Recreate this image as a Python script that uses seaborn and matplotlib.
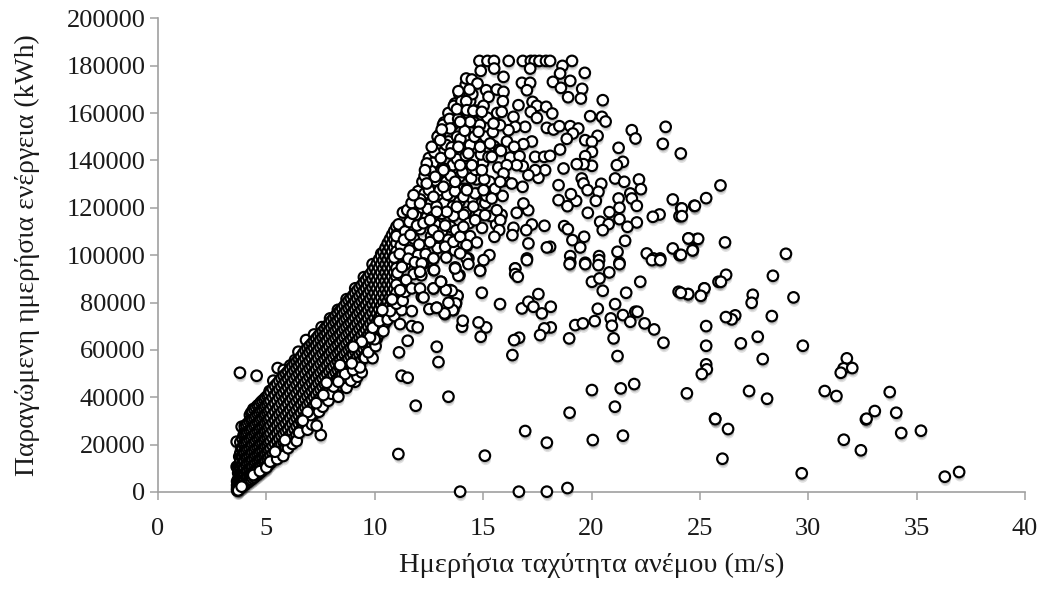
import pandas as pd
import matplotlib
matplotlib.use('Agg')
import matplotlib.pyplot as plt
import matplotlib.patheffects as pe
import seaborn as sns

# Values: wind speed (m/s), daily energy (kWh)
upper_edge = [(3.63,21240),(3.63,10690),(3.78,14900),(3.86,27570),(4.01,26160),(4.24,32490),(4.4,35020),
              (5.01,38820),(5.32,46980),(5.52,52330),(6.32,55700),(6.48,59220),(6.83,64140),(7.94,73290),
              (5.15,42600),(5.8,51500),(6.1,53400),(7.2,66500),(7.55,69600),(8.3,76900),(8.7,81400),
              (9.1,86000),(9.5,90700),(9.9,96200),(10.3,100600),(10.56,103400)]

core_speed = [3.65,3.7,3.8,3.9,4.0,4.15,4.3,4.45,4.6,4.75,4.9,5.05,5.2,5.4,5.6,5.8,6.0,6.2,6.4,6.6,6.8,7.0,
              7.2,7.4,7.6,7.8,8.0,8.2,8.4,8.6,8.8,9.0,9.2,9.4,9.6,9.8,10.0,10.2,10.4,10.6,10.8,11.0]
core_energy = [
    [600,1500,2800,4500],
    [1000,2200,3600,5400,8000,10800],
    [1800,3100,5000,7200,9900,13000,16500,21000],
    [2500,4300,6400,8800,11700,14800,18600,22500],
    [3000,5200,7500,10300,13200,16800,20500,24600,27800],
    [4100,6500,9000,11900,14700,18000,21400,25200,29000],
    [5200,7400,10200,13100,16100,19300,22800,26300,30400,33500],
    [6300,8700,11500,14400,17500,20700,24200,27800,31200,34900],
    [7400,10000,12900,15800,18900,22400,25700,29300,32800,36500],
    [8600,11200,14100,17100,20300,23600,27000,30600,34200,37900],
    [9800,12400,15300,18500,21700,25100,28400,32100,35500,39200],
    [11000,13800,16700,19900,23200,26400,29900,33400,36900,40600],
    [12400,15300,18300,21400,24700,28100,31400,34900,38500,42200],
    [14100,17200,20400,23800,27100,30300,33900,37400,41000,44800],
    [16000,19300,22500,25800,29200,32700,36100,39800,43300,46900],
    [17900,21000,24600,27900,31300,34800,38400,41900,45500,49000],
    [19700,23100,26500,30100,33600,37200,40700,44300,47800,50900],
    [21900,25300,28800,32300,35800,39400,42900,46400,49900,53000],
    [24100,27700,31200,34600,38200,41700,45300,48800,52100,55000],
    [26400,29900,33400,37000,40500,44000,47600,51000,54300,57200],
    [28500,32100,35700,39200,42800,46300,49800,53200,56400,59800],
    [30800,34300,37900,41400,45000,48500,52100,55400,58900,61700],
    [33000,36500,40100,43600,47200,50700,54200,57700,60900,63800],
    [35200,38800,42300,45900,49400,52900,56400,59800,63000,65900],
    [37100,40800,44400,47900,51500,55000,58500,61900,65100,67800],
    [39300,42900,46500,50000,53600,57100,60600,64000,67200,70100],
    [41200,44900,48400,52000,55600,59100,62700,66100,69400,72200],
    [43400,47000,50500,54100,57700,61200,64800,68200,71500,74400],
    [45100,48800,52300,56000,59500,63100,66600,70100,73400,76500],
    [47300,50900,54500,58100,61600,65200,68700,72200,75600,78600],
    [49200,52800,56400,60000,63500,67100,70600,74100,77500,80800],
    [51000,54700,58300,61900,65400,69000,72500,76000,79400,82900],
    [53500,57000,60600,64100,67700,71200,74800,78200,81600,85100],
    [55800,59200,62800,66300,69900,73400,76900,80400,83800,87300],
    [58100,61500,65000,68600,72100,75700,79100,82600,86100,89600],
    [60500,63900,67500,71000,74500,78000,81500,85000,88500,92000],
    [63000,66400,69900,73400,77000,80500,84000,87500,91000,94600],
    [66800,70200,73700,77200,80700,84200,87700,91200,94700,98200],
    [69900,73300,76800,80300,83800,87300,90800,94300,97800,101300],
    [73500,77000,80500,84000,87500,91000,94500,98000,101500,105000],
    [77000,80500,84000,87500,91000,94500,98000,101500,105000,108500],
    [80500,84000,87500,91000,94500,98000,101500,105000,108500,112000],
]

core2_speed = [3.75,3.85,3.95,4.07,4.22,4.37,4.52,4.67,4.82,4.97,5.12,5.3,5.5,5.7,5.9,6.1,6.3,6.5,6.7,6.9,7.1,
               7.3,7.5,7.7,7.9,8.1,8.3,8.5,8.7,8.9,9.1,9.3,9.5,9.7,9.9,10.1,10.3,10.5,10.7,10.9]
core2_energy = [
    [1400,3000,5100,7300,11500,15000],
    [2200,3900,6100,8200,11400,14900,18300],
    [3300,5200,7700,10200,13100,16400,20200,24000],
    [3900,6100,8400,11400,14300,17500,21000,24900,28400],
    [4800,7100,9900,12600,15500,18700,22300,26000,29900],
    [5800,8100,10900,13800,16900,20100,23600,27000,30700,33900],
    [7000,9400,12200,15200,18300,21500,25000,28500,32000,35700],
    [8100,10700,13500,16500,19600,23000,26400,29900,33500,37000],
    [9200,11900,14700,17800,21000,24400,27700,31300,34800,38500],
    [10500,13200,16100,19300,22500,25800,29200,32700,36300,39900],
    [11800,14600,17500,20700,24000,27300,30600,34200,37800,41200],
    [13300,16200,19400,22700,26000,29300,32800,36300,39900,43600],
    [15100,18300,21600,24900,28300,31600,35200,38600,42300,45800],
    [17000,20200,23600,26900,30300,33700,37300,40900,44400,48000],
    [18800,22100,25600,29000,32500,36000,39600,43100,46700,49900],
    [20800,24200,27700,31200,34700,38300,41800,45300,48800,52000],
    [23000,26500,30000,33500,37000,40600,44100,47600,51000,54000],
    [25300,28800,32300,35800,39300,42900,46400,49900,53200,56100],
    [27400,31000,34600,38100,41700,45200,48700,52100,55300,58500],
    [29700,33200,36800,40300,43900,47400,51000,54300,57600,60700],
    [31900,35400,39000,42500,46100,49600,53100,56500,59900,62700],
    [34100,37700,41200,44700,48300,51800,55300,58800,62000,64800],
    [36100,39800,43300,46900,50400,54000,57500,60900,64100,66900],
    [38200,41800,45400,49000,52500,56000,59500,63000,66100,69000],
    [40200,43900,47400,51000,54600,58100,61600,65100,68300,71100],
    [42300,45900,49400,53000,56600,60100,63700,67100,70400,73300],
    [44200,47900,51400,55000,58600,62100,65700,69100,72400,75400],
    [46200,49800,53400,57000,60500,64100,67600,71100,74500,77500],
    [48200,51800,55400,59000,62500,66100,69600,73100,76500,79700],
    [50100,53700,57300,60900,64400,68000,71500,75000,78400,81800],
    [52200,55800,59400,63000,66500,70100,73600,77100,80500,84000],
    [54600,58100,61700,65200,68800,72300,75800,79300,82700,86200],
    [56900,60300,63900,67400,71000,74500,78000,81500,85000,88400],
    [59300,62700,66200,69800,73300,76800,80300,83800,87300,90800],
    [61700,65100,68700,72200,75700,79200,82700,86200,89700,93300],
    [64900,68300,71800,75300,78800,82300,85800,89300,92800,96400],
    [68300,71700,75200,78700,82200,85700,89200,92700,96200,99700],
    [71700,75100,78600,82100,85600,89100,92600,96100,99600,103100],
    [75200,78700,82200,85700,89200,92700,96200,99700,103200,106700],
    [78700,82200,85700,89200,92700,96200,99700,103200,106700,110200],
]

lower_fringe = [(3.7,700),(3.86,2250),(4.4,7170),(4.7,8800),(5.0,10300),(5.17,12800),(5.5,13900),(5.78,15190),
                (5.4,17020),(6.0,18500),(6.2,20300),(5.86,21940),(6.4,21500),(6.51,25040),(6.9,26300),(7.1,28500),
                (7.51,24050),(7.32,27990),(7.05,32490),(6.9,33800),(7.43,33900),(6.68,30100),(7.6,36000),(7.3,37500),
                (7.86,38540),(8.0,41500),(8.32,40230),(7.63,40930),(8.7,44000),(8.1,44500),(9.09,46560),(8.9,47000),
                (9.2,48670),(8.63,49800),(8.32,46560),(7.78,46140),(9.4,50500),(9.0,51500),(9.32,52610),(9.55,56690),
                (9.9,56500),(8.94,54300),(8.4,53590),(9.7,59000),(10.04,61610),(10.0,64500),(9.78,65270),(9.4,63440),
                (10.4,67900),(9.91,69350),(10.21,72160),(10.6,72800),(9.01,61330),(10.9,74300),(10.71,76380),
                (10.35,76800),(11.24,76800),(11.71,76380),(11.0,79500),(10.8,81300),(11.29,80740),(11.4,84500)]

cloud_fill = [(10.9,99000),(11.0,108000),(11.1,113000),(11.2,104000),(11.3,118000),(11.4,96000),(11.4,110000),
              (11.5,119000),(11.6,102000),(11.6,114000),(11.7,122000),(11.8,92000),(11.8,107000),(11.9,117000),
              (12.0,127000),(12.0,100000),(12.1,111000),(12.2,131000),(12.2,120000),(12.3,104000),(12.3,126000),
              (12.4,116000),(12.5,134000),(12.5,141000),(12.6,108000),(12.6,122000),(12.7,129000),(12.7,139000),
              (12.8,113000),(12.8,146000),(12.9,103000),(12.9,124000),(13.0,135000),(13.0,151000),(13.1,110000),
              (13.1,143000),(13.2,122000),(13.2,156000),(13.3,99000),(13.3,131000),(13.4,148000),(13.4,160000),
              (13.5,112000),(13.5,125000),(13.6,138000),(13.6,155000),(13.7,102000),(13.7,164000),(13.8,119000),
              (13.8,150000),(13.9,133000),(13.9,168000),(14.0,110000),(14.0,143000),(14.1,128000),(14.1,158000),
              (14.2,172000),(14.2,118000),(14.3,136000),(14.3,150000),(14.4,108000),(14.4,165000),(14.5,124000),
              (14.6,141000),(14.6,156000),(14.7,132000),(14.8,117000),(14.8,149000),(15.0,139000),(15.1,122000),
              (15.2,158000),(15.3,131000),(15.5,146000),(15.6,113000),(15.7,137000),(15.9,125000),(16.1,148000),
              (11.05,92500),(11.15,100500),(11.25,95000),(11.35,106500),(11.45,89500),(11.55,98500),(11.65,108500),
              (11.75,117500),(11.85,97000),(11.95,112500),(12.05,104500),(12.1,123500),(12.15,91500),(12.25,113500),
              (12.3,133500),(12.35,100500),(12.45,119500),(12.5,127500),(12.55,105500),(12.6,135500),(12.65,116000),
              (12.7,110500),(12.75,143500),(12.8,131500),(12.85,120500),(12.9,150000),(12.95,108000),(13.0,127500),
              (13.05,141000),(13.1,117500),(13.15,155000),(13.2,136500),(13.25,112500),(13.3,146500),(13.35,125500),
              (13.4,106500),(13.45,157500),(13.5,133500),(13.55,145500),(13.6,120500),(13.65,163000),(13.7,127000),
              (13.75,110500),(13.8,140500),(13.85,157500),(13.9,122500),(13.95,149000),(14.0,165000),(14.05,135000),
              (14.1,117000),(14.15,152500),(14.2,142000),(14.25,128000),(14.3,160000),(14.35,113500),(14.4,146500),
              (14.45,132500),(14.5,168000),(14.55,120500),(14.6,150000),(14.65,136000),(14.7,161000),(14.75,126000),
              (14.85,155000),(14.9,142500),(14.95,111500),(15.05,132000),(15.1,150000),(15.15,125000),(15.25,141500),
              (15.35,116500),(15.45,152000),(15.55,128000),(15.65,160000),(15.75,144500),(15.85,117000),(16.0,131500)]

cloud_top = [(14.83,182000),(15.2,182000),(15.5,182000),(16.18,182000),(16.83,182000),(17.2,182000),(17.38,182000),
             (17.6,182000),(17.9,182000),(18.09,182000),(19.1,182000),
             (15.51,178790),(14.89,177800),(17.17,178790),(18.66,179910),(18.55,176680),(19.69,176960),(15.94,175270),
             (14.22,174570),(14.48,174150),(14.74,172460),(13.86,169220),(14.37,169920),(15.14,169640),(15.63,169920),
             (15.94,168940),(16.79,172740),(17.17,172740),(17.02,169640),(18.22,173160),(19.02,173580),(18.59,170630),
             (19.57,170210),(18.92,166690),(19.51,166130),(20.52,165420),(14.22,165000),(15.25,166830),(15.91,165000),
             (15.02,163030),(13.79,161620),(14.25,161200),(14.55,160920),(14.94,160500),(16.63,163310),(17.28,164720),
             (17.48,163030),(17.91,162610),(18.19,159800),(17.2,160500),(15.86,160500),(16.4,158390),(17.48,157970),
             (19.94,158670),(20.48,158390),(20.65,156420),(21.86,152760),(22.03,149250),(23.42,154170),(23.29,146990),
             (24.12,142920)]

cloud_mid = [(16.94,154170),(16.48,154170),(16.17,152760),(15.78,154870),(15.48,155580),(14.79,152060),(14.4,156280),
             (13.94,156280),(13.48,153470),(13.09,153040),(17.94,153750),(18.25,153040),(18.52,154450),(19.02,154450),
             (19.39,153470),(19.14,151360),(18.86,149100),(20.28,150370),(19.71,148540),(20.02,147840),(17.25,147980),
             (16.86,146860),(16.43,145730),(15.82,144040),(15.4,141510),(16.25,141230),(16.68,141790),(17.4,141510),
             (17.82,141510),(18.09,141930),(18.55,144600),(21.25,145310),(20.02,143620),(19.71,141790),(21.45,139400),
             (21.17,138000),(20.02,137710),(19.63,138410),(19.32,138410),(18.71,136590),(17.86,135880),(17.55,132650),
             (17.4,135880),(17.09,133770),(16.83,137570),(16.55,137990),(16.09,137990),(15.94,134470),(15.79,130960),
             (16.32,130250),(16.82,128850),(18.48,129550),(19.55,132370),(19.63,130250),(19.82,127440),(20.45,130110),
             (20.32,126740),(21.09,132370),(21.51,130960),(22.19,131940),(22.28,127860),(21.79,126040),(21.86,123920),
             (22.09,120830),(21.25,123920),(21.29,119990),(20.83,118160),(20.4,114080),(20.79,113090),(20.52,110560),
             (21.29,115200),(22.09,113800),(21.66,111970),(19.83,117880),(20.2,122940),(19.29,122940),(19.05,125750),
             (18.48,123220),(18.89,120690),(23.75,123500),(24.14,119700),(24.06,116470),(24.74,120830),(23.14,117170),
             (22.83,116190),(17.08,118980),(16.55,117880),(16.86,121810),(15.63,118980),(15.09,116890),(15.79,114780),
             (17.25,112950),(17.83,112390),(16.99,110560),(16.4,111550),(15.74,110560),(15.52,107750),(16.35,108450),
             (18.74,112250),(18.91,110980),(19.66,107750),(19.12,106340),(19.48,103250),(17.09,104930),(18.09,103530),
             (17.94,103250),(21.55,106060),(24.48,107050),(24.86,106760),(24.68,102120),(23.75,102830),(24.06,100010),
             (22.55,100710),(22.86,98600),(23.17,98600),(21.2,101420),(20.35,99590),(19.02,99590),(19.02,96780),
             (19.71,96780),(20.35,97900),(21.29,96780),(17.02,98600),(15.29,100010),(15.02,97900),(16.48,94380),
             (14.86,93680),(14.71,105350),(14.25,103950),(14.32,98600),(13.71,94380),(12.71,98600),(12.25,96500),
             (13.25,103530),(13.63,105640),(13.94,107750),(14.09,111970),(13.63,116610),(13.32,118300),(12.86,118300),
             (12.55,114780),(14.63,114780),(14.63,126040),(14.09,124630),(13.79,120410),(15.02,127440),(15.4,123920),
             (14.25,127440),(13.71,130960),(13.17,128850),(12.71,124630),(12.09,121820),(11.79,125330),(12.4,130250),
             (12.4,138700),(12.63,145730),(13.02,148540),(13.48,142920),(13.86,145730),(14.32,142920),(14.86,145730),
             (15.32,147140),(14.48,137990),(14.94,135880),(13.94,137990),(13.17,135880),(12.79,133070),(12.32,135880)]

cloud_low = [(12.52,77220),(12.86,77790),(12.17,82430),(11.71,85950),(11.17,85240),(12.09,85950),(12.71,85950),
             (13.06,88760),(13.48,85240),(13.81,82850),(13.75,79620),(13.63,76800),(13.24,75110),(12.71,93680),
             (12.17,96500),(12.71,98600),(13.71,94810),(13.91,91570),(14.24,98600),(14.24,104230),(13.94,100720),
             (14.94,84120),(15.78,79330),(16.79,77500),(17.09,80320),(17.55,83560),(17.32,78210),(17.71,75400),
             (18.12,78210),(18.12,69490),(17.82,69070),(17.63,66250),(16.66,65130),(16.43,64140),(16.35,57810),
             (18.97,64850),(19.25,70470),(19.6,71180),(20.15,72160),(20.29,77370),(20.02,88760),(20.37,90170),
             (20.52,84960),(20.82,92700),(21.6,84120),(22.25,88760),(21.09,79330),(21.45,74690),(20.89,73290),
             (20.94,70190),(21.02,64850),(21.2,57390),(21.79,71880),(22.02,76100),(22.12,76100),(22.45,71180),
             (22.89,68640),(23.32,63020),(24.02,84540),(24.45,83560),(25.06,83130),(25.2,85950),(25.86,88760),
             (14.03,69770),(14.06,72300),(15.14,69490),(14.79,71600),(14.89,65550),(13.82,82850),(13.74,79620),
             (13.6,76800),(13.22,75400),(12.86,77790),(12.25,82150),(12.71,85950),(13.55,84960),(13.28,85250),
             (13.05,88760),(13.4,79900),(13.86,91290),(13.71,94390),(14.86,93400),(14.32,96220),(12.74,93680),
             (12.09,92980),(16.48,94390),(16.48,91990),(16.6,90870),(18.99,96220),(19.71,96220),(20.32,95790),
             (21.29,96220),(17.02,97900),(22.79,97900),(23.17,97900)]

right_side = [(25.95,129430),(25.29,124070),(24.77,120820),(24.17,119720),(24.17,116470),(26.16,105370),(24.92,106890),
              (24.47,107060),(24.66,101990),(24.13,100140),(28.97,100560),(28.37,91280),(26.21,91700),(25.97,88750),
              (25.21,85960),(25.04,82840),(24.46,83560),(24.12,84100),(27.44,83260),(27.39,79880),(29.32,82160),
              (28.32,74270),(26.63,74570),(26.47,72880),(26.2,73850),(25.29,70050),(29.75,61740),(31.78,56420),
              (31.63,52200),(32.03,52330),(31.5,50340),(30.76,42620),(31.3,40510),(33.76,42200),(33.07,34180),
              (34.06,33460),(32.66,30680),(32.69,30930),(34.29,24900),(35.2,25870),(31.64,22070),(32.43,17600),
              (29.7,7890),(36.3,6460),(36.96,8440),(27.27,42620),(28.1,39370),(27.9,56130),(26.89,62750),(27.67,65540),
              (25.29,61740),(25.29,53890),(25.32,51780),(25.09,49800),(25.7,30930),(26.3,26590),(26.04,14050),
              (24.4,41640),(25.71,30800)]

scattered_low = [(3.78,50360),(4.55,49090),(11.09,16030),(11.89,36430),(13.4,40230),(11.24,49090),(11.52,48250),
                 (11.12,58940),(11.52,63860),(12.86,61330),(12.94,54860),(11.17,70900),(11.71,70050),(11.98,69490),
                 (20.02,43040),(21.35,43740),(21.97,45570),(21.08,36010),(18.99,33480),(16.94,25740),(17.94,20820),
                 (20.06,21940),(21.45,23770),(15.08,15330),(13.94,140),(16.65,140),(17.94,140),(18.89,1680)]

x_ticks = [0, 5, 10, 15, 20, 25, 30, 35, 40]
y_ticks = [0, 20000, 40000, 60000, 80000, 100000, 120000, 140000, 160000, 180000, 200000]
x_label = 'Ημερήσια ταχύτητα ανέμου (m/s)'
y_label = 'Παραγώμενη ημερήσια ενέργεια (kWh)'

# left to right, top to bottom, so the lower right rim ends up on top
columns = sorted(list(zip(core_speed, core_energy)) + list(zip(core2_speed, core2_energy)), key=lambda c: c[0])
core = [(s, e) for s, col in columns for e in reversed(col)]
points = upper_edge + core + lower_fringe + cloud_fill + cloud_top + cloud_mid + cloud_low + right_side + scattered_low
df = pd.DataFrame(points, columns=['speed', 'energy'])

sns.set_theme(style='white')
plt.rcParams['font.family'] = ['Liberation Serif', 'DejaVu Serif']

fig = plt.figure(figsize=(10.46, 5.90), dpi=100)
ax = fig.add_axes([158/1046, 98/590, 867/1046, 473.7/590])

sns.scatterplot(data=df, x='speed', y='energy', color='white', edgecolor='black', linewidth=1.55,
                s=58, clip_on=False, zorder=3, ax=ax, legend=False)
ax.collections[0].set_path_effects([
    pe.SimplePatchShadow(offset=(0.6, -3.0), shadow_rgbFace='black', alpha=0.12),
    pe.SimplePatchShadow(offset=(0.4, -1.8), shadow_rgbFace='black', alpha=0.15),
    pe.Normal()])

ax.set_xlim(0, 40)
ax.set_ylim(0, 200000)
ax.set_xticks(x_ticks)
ax.set_yticks(y_ticks)
ax.set_xlabel(x_label, fontsize=20.5, color='#1a1a1a', labelpad=9)
ax.set_ylabel(y_label, fontsize=20, color='#1a1a1a', labelpad=19)
ax.tick_params(axis='both', direction='out', length=6, width=1.1, color='#a0a0a0', labelsize=19,
               labelcolor='#1a1a1a', bottom=True, left=True)
ax.tick_params(axis='x', pad=13)
ax.tick_params(axis='y', pad=3)
sns.despine(ax=ax)
for side in ['left', 'bottom']:
    ax.spines[side].set_color('#a0a0a0')
    ax.spines[side].set_linewidth(1.2)

fig.savefig('out.png', dpi=100)
